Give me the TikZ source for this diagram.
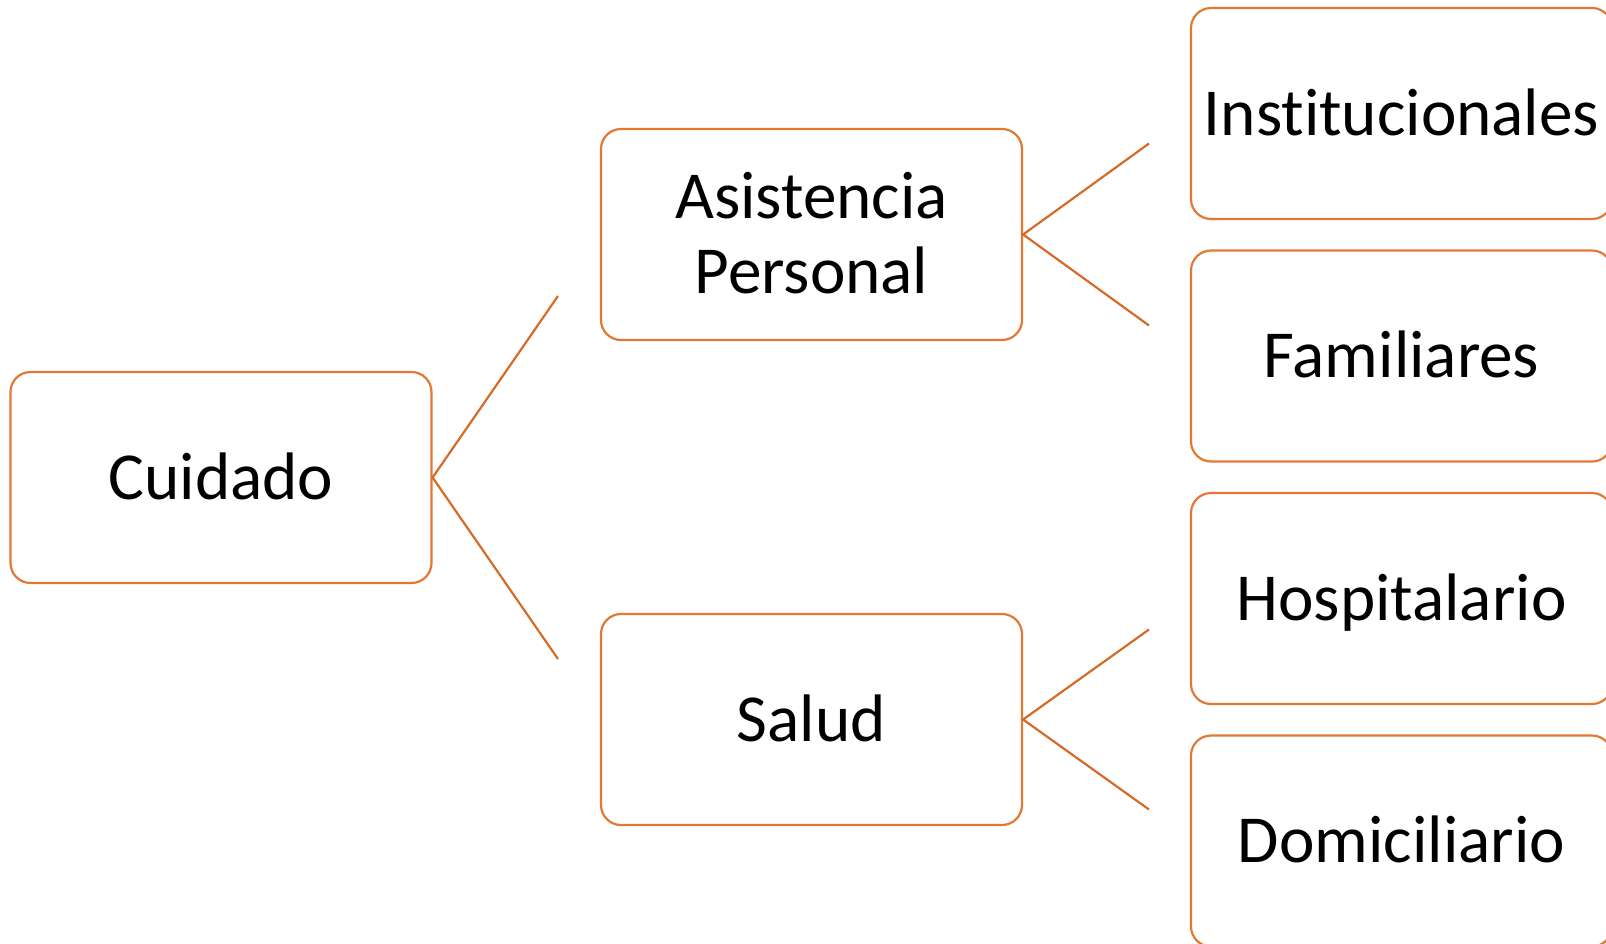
\documentclass[tikz,border=0pt]{standalone}
\usepackage{fontspec}
\setmainfont{Carlito}[Ligatures=NoCommon]
\definecolor{boxorange}{RGB}{226,120,50}
\definecolor{lineorange}{RGB}{212,108,40}
\begin{document}
\begin{tikzpicture}[x=0.5pt,y=-0.5pt,
  catbox/.style={draw=boxorange, line width=1.1pt, rounded corners=10pt,
    minimum width=210.5pt, minimum height=105.5pt, inner sep=0pt,
    align=center, text height=21.5pt, text depth=0pt,
    font=\fontsize{33.6pt}{37.5pt}\selectfont},
  branch/.style={draw=lineorange, line width=1.1pt}]
\useasboundingbox (0,0) rectangle (1606,943);
\node[catbox] (cuidado) at (221,477.5) {Cuidado};
\node[catbox, text height=59pt] (asist) at (811.5,234.5) {Asistencia\\Personal};
\node[catbox] (salud) at (811.5,719.5) {Salud};
\node[catbox] (inst) at (1401.5,113.5) {Institucionales};
\node[catbox] (fam) at (1401.5,356) {Familiares};
\node[catbox] (hosp) at (1401.5,598.5) {Hospitalario};
\node[catbox] (domi) at (1401.5,841) {Domiciliario};
\coordinate (c1) at (558,296);
\coordinate (c2) at (558,659);
\coordinate (a1) at (1149,143.5);
\coordinate (a2) at (1149,325.5);
\coordinate (s1) at (1149,629.5);
\coordinate (s2) at (1149,809.5);
\draw[branch] (c1) -- (cuidado.east) -- (c2);
\draw[branch] (a1) -- (asist.east) -- (a2);
\draw[branch] (s1) -- (salud.east) -- (s2);
\end{tikzpicture}
\end{document}
